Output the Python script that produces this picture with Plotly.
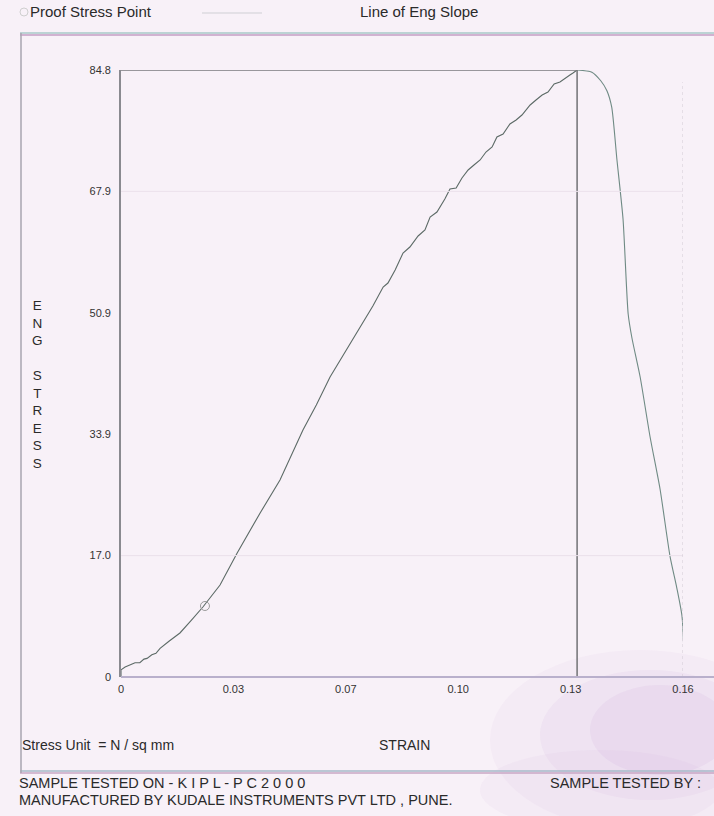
import numpy as np
import plotly.graph_objects as go

# ---- data ----
strain = [0.0, 0.0, 0.0012, 0.0029, 0.0041, 0.0055, 0.0067, 0.0076, 0.0090, 0.0102, 0.0114,
          0.0140, 0.0172, 0.0205, 0.0239, 0.0289, 0.0339, 0.0406, 0.0464, 0.0531, 0.0570,
          0.0610, 0.0654, 0.0706, 0.0735, 0.0765, 0.0779, 0.0800, 0.0823, 0.0843, 0.0867,
          0.0887, 0.0902, 0.0922, 0.0945, 0.0960, 0.0978, 0.0995, 0.1013, 0.1030, 0.1048,
          0.1065, 0.1083, 0.1097, 0.1115, 0.1135, 0.1153, 0.1170, 0.1194, 0.1211, 0.1229,
          0.1246, 0.1264, 0.1281, 0.1296, 0.1310, 0.1319, 0.1331]
stress = [0.0, 1.0, 1.4, 1.7, 2.0, 2.0, 2.5, 2.6, 3.1, 3.3, 4.0,
          5.0, 6.15, 7.9, 9.78, 12.85, 17.32, 22.91, 27.52, 34.51, 38.0,
          41.91, 45.40, 49.45, 51.83, 54.48, 55.04, 56.86, 59.23, 60.07, 61.61,
          62.45, 64.26, 64.96, 66.78, 68.17, 68.31, 69.71, 70.83, 71.53, 72.23,
          73.34, 74.04, 75.44, 75.86, 77.26, 77.81, 78.51, 79.91, 80.61, 81.31,
          81.73, 82.84, 83.12, 83.68, 84.10, 84.38, 84.80]
drop_strain = [0.1331, 0.1374, 0.1400, 0.1418, 0.1432, 0.1447, 0.1465, 0.1480, 0.1491, 0.1515,
               0.1544, 0.1573, 0.1602, 0.1622, 0.1637, 0.1643, 0.1643]
drop_stress = [84.80, 84.50, 83.30, 81.90, 79.60, 72.37, 63.98, 50.71, 47.36, 41.91,
               33.53, 26.26, 16.90, 12.43, 8.52, 2.4, 0.0]
peak_strain = 0.1331
peak_stress = 84.8
proof_strain = [0.0245]
proof_stress = [9.92]
strain_max = 0.164
stress_max = 84.8
x_tick_labels = ["0", "0.03", "0.07", "0.10", "0.13", "0.16"]
y_tick_labels = ["0", "17.0", "33.9", "50.9", "67.9", "84.8"]

W, H = 714, 816
BG = "#f8f1f8"
FONT = "Liberation Sans, Arial, sans-serif"

def px(x):
    return x / W

def py(y):
    return 1 - y / H

fig = go.Figure()

fig.add_trace(go.Scatter(x=strain, y=stress, mode="lines",
                         line=dict(color="#5c6a66", width=1.1), hoverinfo="skip"))
fig.add_trace(go.Scatter(x=drop_strain, y=drop_stress, mode="lines", line_shape="spline",
                         line=dict(color="#6f8a84", width=1.1, smoothing=0.6), hoverinfo="skip"))
# peak box lines
fig.add_trace(go.Scatter(x=[0, peak_strain, peak_strain], y=[peak_stress, peak_stress, 0],
                         mode="lines", line=dict(color="#7a7a7e", width=1.6), hoverinfo="skip"))
# proof stress point
fig.add_trace(go.Scatter(x=proof_strain, y=proof_stress, mode="markers",
                         marker=dict(symbol="circle-open", size=9, color="#9a9a9a",
                                     line=dict(width=1)), hoverinfo="skip"))

xt = list(np.linspace(0, strain_max, len(x_tick_labels)))
yt = list(np.linspace(0, stress_max, len(y_tick_labels)))

fig.update_layout(
    width=W, height=H, margin=dict(l=0, r=0, t=0, b=0, autoexpand=False),
    paper_bgcolor=BG, plot_bgcolor="rgba(0,0,0,0)", showlegend=False,
    font=dict(family=FONT, color="#2a2a2a"),
    xaxis=dict(domain=[px(121), px(683)], range=[0, strain_max], tickvals=xt,
               ticktext=x_tick_labels, showgrid=False, zeroline=False, automargin=False,
               showline=False, ticks="", tickfont=dict(size=11, color="#333"),
               ticklabelstandoff=4, fixedrange=True),
    yaxis=dict(domain=[py(677), py(70)], range=[0, stress_max], tickvals=yt,
               ticktext=y_tick_labels, showgrid=False, zeroline=False, automargin=False,
               showline=True, linecolor="#8a8a90", linewidth=1.6, ticks="",
               tickfont=dict(size=11, color="#333"), ticklabelstandoff=6, fixedrange=True),
)

shapes = []
# purple smudge at bottom right (scan artefact)
for (cx, cy, rx, ry, op) in [(640, 740, 150, 90, 0.08), (650, 735, 110, 65, 0.10),
                             (660, 730, 70, 45, 0.12), (600, 790, 120, 40, 0.07)]:
    shapes.append(dict(type="circle", xref="paper", yref="paper", layer="below",
                       x0=px(cx - rx), x1=px(cx + rx), y0=py(cy + ry), y1=py(cy - ry),
                       fillcolor="#c9a0d8", opacity=op, line=dict(width=0)))
# faint horizontal gridlines visible in the scan
for yv in [yt[1], yt[4]]:
    shapes.append(dict(type="line", xref="x", yref="y", x0=0, x1=strain_max, y0=yv, y1=yv,
                       line=dict(color="#ebe1eb", width=1)))
# faint right edge
shapes.append(dict(type="line", xref="x", yref="y", x0=strain_max, x1=strain_max,
                   y0=0, y1=stress_max * 0.98, line=dict(color="#d2cad4", width=1, dash="dot")))
# bottom axis line (colourful scan)
shapes.append(dict(type="line", xref="paper", yref="paper", x0=px(121), x1=px(714),
                   y0=py(677), y1=py(677), line=dict(color="#b9b0cc", width=2)))
# outer frame
shapes.append(dict(type="line", xref="paper", yref="paper", x0=px(20), x1=1,
                   y0=py(33), y1=py(33), line=dict(color="#a9c9c9", width=1.5)))
shapes.append(dict(type="line", xref="paper", yref="paper", x0=px(20), x1=1,
                   y0=py(35), y1=py(35), line=dict(color="#c49cc4", width=1.5)))
shapes.append(dict(type="line", xref="paper", yref="paper", x0=px(20), x1=1,
                   y0=py(771), y1=py(771), line=dict(color="#a6b8c8", width=1.5)))
shapes.append(dict(type="line", xref="paper", yref="paper", x0=px(20), x1=1,
                   y0=py(773), y1=py(773), line=dict(color="#c8a6c4", width=1.5)))
shapes.append(dict(type="line", xref="paper", yref="paper", x0=px(21), x1=px(21),
                   y0=py(33), y1=py(773), line=dict(color="#a8a4b0", width=1.5)))
# legend symbols
shapes.append(dict(type="circle", xref="paper", yref="paper", x0=px(20), x1=px(28),
                   y0=py(16), y1=py(8), line=dict(color="#cfcfcf", width=1)))
shapes.append(dict(type="line", xref="paper", yref="paper", x0=px(202), x1=px(262),
                   y0=py(13), y1=py(13), line=dict(color="#cfcfd4", width=1)))
fig.update_layout(shapes=shapes)

ann = []
def text(t, x, y, size=14, xanchor="left", color="#2a2a2a"):
    ann.append(dict(text=t, x=px(x), y=py(y), xref="paper", yref="paper", showarrow=False,
                    xanchor=xanchor, yanchor="middle", borderpad=0,
                    font=dict(size=size, color=color, family=FONT)))

text("Proof Stress Point", 29, 12, size=15)
text("Line of Eng Slope", 359, 12, size=15)
text("Stress Unit  = N / sq mm", 21, 745, size=14)
text("STRAIN", 404, 745, size=14, xanchor="center")
text("SAMPLE TESTED ON - K I P L - P C 2 0 0 0", 18, 783, size=14.5)
text("MANUFACTURED BY KUDALE INSTRUMENTS PVT LTD , PUNE.", 18, 800, size=14.5)
text("SAMPLE TESTED BY :", 702, 783, size=14.5, xanchor="right")
ann.append(dict(text="E<br>N<br>G<br> <br>S<br>T<br>R<br>E<br>S<br>S", x=px(37), y=py(384),
                xref="paper", yref="paper", showarrow=False, xanchor="center", yanchor="middle",
                align="center", font=dict(size=13.5, color="#2a2a2a", family=FONT)))
fig.update_layout(annotations=ann)

fig.write_html("out.html")
